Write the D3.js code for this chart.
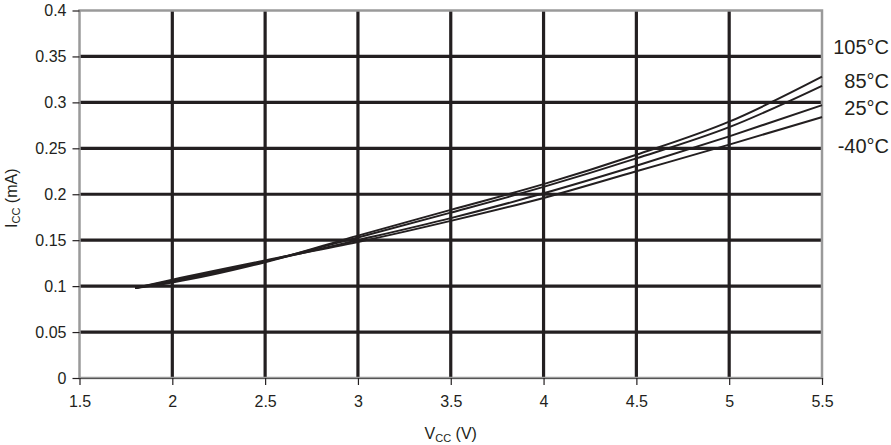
<!DOCTYPE html>
<html>
<head>
<meta charset="utf-8">
<script src="https://cdn.jsdelivr.net/npm/d3@7"></script>
<style>
  body { margin: 0; background: #fff; }
  svg { font-family: 'Liberation Sans', Arial, sans-serif; }
</style>
</head>
<body>
<svg id="chart" width="891" height="445"></svg>
<script>
// Supply voltage (V) where the curves were read
const vcc = [1.8, 2, 2.5, 3, 3.5, 4, 4.5, 5, 5.5];

// Supply current (mA) per temperature
const icc105 = [0.098, 0.104, 0.126, 0.155, 0.183, 0.211, 0.243, 0.279, 0.328];
const icc85 = [0.098, 0.105, 0.127, 0.153, 0.180, 0.208, 0.239, 0.273, 0.318];
const icc25 = [0.098, 0.106, 0.127, 0.150, 0.174, 0.201, 0.231, 0.263, 0.297];
const iccM40 = [0.098, 0.107, 0.128, 0.148, 0.171, 0.196, 0.225, 0.254, 0.284];

const seriesNames = ['105°C', '85°C', '25°C', '-40°C'];
const xTicks = [1.5, 2, 2.5, 3, 3.5, 4, 4.5, 5, 5.5];
const yTicks = [0, 0.05, 0.1, 0.15, 0.2, 0.25, 0.3, 0.35, 0.4];

const series = [icc105, icc85, icc25, iccM40];

const margin = { left: 79.5, right: 69, top: 10.5, bottom: 67 };
const width = 891;
const height = 445;

const svg = d3.select('#chart');

const xScale = d3.scaleLinear()
  .domain([1.5, 5.5])
  .range([margin.left, width - margin.right]);

const yScale = d3.scaleLinear()
  .domain([0, 0.4])
  .range([height - margin.bottom, margin.top]);

// grid lines (inner ones only, the frame is grey)
svg.append('g')
  .selectAll('line')
  .data(yTicks.slice(1, -1))
  .enter()
  .append('line')
  .attr('x1', xScale(1.5))
  .attr('x2', xScale(5.5))
  .attr('y1', d => yScale(d))
  .attr('y2', d => yScale(d))
  .attr('stroke', '#231f20')
  .attr('stroke-width', 3.2);

svg.append('g')
  .selectAll('line')
  .data(xTicks.slice(1, -1))
  .enter()
  .append('line')
  .attr('x1', d => xScale(d))
  .attr('x2', d => xScale(d))
  .attr('y1', yScale(0.4))
  .attr('y2', yScale(0))
  .attr('stroke', '#231f20')
  .attr('stroke-width', 3.2);

// frame
svg.append('rect')
  .attr('x', xScale(1.5))
  .attr('y', yScale(0.4))
  .attr('width', xScale(5.5) - xScale(1.5))
  .attr('height', yScale(0) - yScale(0.4))
  .attr('fill', 'none')
  .attr('stroke', '#9a9a9a')
  .attr('stroke-width', 2.5);

svg.append('line')
  .attr('x1', xScale(1.5))
  .attr('x2', xScale(5.5))
  .attr('y1', yScale(0) + 0.5)
  .attr('y2', yScale(0) + 0.5)
  .attr('stroke', '#555')
  .attr('stroke-width', 1.2);

// axes
const xAxisGen = d3.axisBottom(xScale)
  .tickValues(xTicks)
  .tickSize(7)
  .tickPadding(11)
  .tickFormat(d3.format('~g'));

const yAxisGen = d3.axisLeft(yScale)
  .tickValues(yTicks)
  .tickSize(7)
  .tickPadding(6)
  .tickFormat(d3.format('~g'));

const xAxis = svg.append('g')
  .attr('transform', `translate(0,${yScale(0)})`)
  .call(xAxisGen);

const yAxis = svg.append('g')
  .attr('transform', `translate(${xScale(1.5)},0)`)
  .call(yAxisGen);

[xAxis, yAxis].forEach(a => {
  a.select('.domain').remove();
  a.selectAll('.tick line').attr('stroke', '#231f20').attr('stroke-width', 1.2);
  a.selectAll('.tick text')
    .attr('fill', '#231f20')
    .attr('font-size', '16px')
    .attr('font-family', "'Liberation Sans', Arial, sans-serif");
});

// curves
const lineFunction = d3.line()
  .x(d => xScale(d[0]))
  .y(d => yScale(d[1]))
  .curve(d3.curveMonotoneX);

svg.append('g')
  .selectAll('path')
  .data(series)
  .enter()
  .append('path')
  .attr('d', s => lineFunction(vcc.map((v, i) => [v, s[i]])))
  .attr('fill', 'none')
  .attr('stroke', '#231f20')
  .attr('stroke-width', 2);

// temperature labels
const labelY = [47, 81, 108, 146];
svg.append('g')
  .selectAll('text')
  .data(seriesNames)
  .enter()
  .append('text')
  .text(d => d)
  .attr('x', 889)
  .attr('y', (d, i) => labelY[i])
  .attr('dy', '0.35em')
  .attr('text-anchor', 'end')
  .attr('font-size', '20px')
  .attr('fill', '#231f20');

// axis titles
const xTitle = svg.append('text')
  .attr('x', (xScale(1.5) + xScale(5.5)) / 2)
  .attr('y', 439)
  .attr('text-anchor', 'middle')
  .attr('font-size', '16px')
  .attr('fill', '#231f20');
xTitle.append('tspan').text('V');
xTitle.append('tspan').text('CC').attr('font-size', '11px').attr('dy', 2.5);
xTitle.append('tspan').text(' (V)').attr('dy', -2.5);

const yTitle = svg.append('text')
  .attr('transform', `translate(17,${(yScale(0) + yScale(0.4)) / 2 + 4}) rotate(-90)`)
  .attr('text-anchor', 'middle')
  .attr('font-size', '16px')
  .attr('fill', '#231f20');
yTitle.append('tspan').text('I');
yTitle.append('tspan').text('CC').attr('font-size', '11px').attr('dy', 2.5);
yTitle.append('tspan').text(' (mA)').attr('dy', -2.5);
</script>
</body>
</html>
